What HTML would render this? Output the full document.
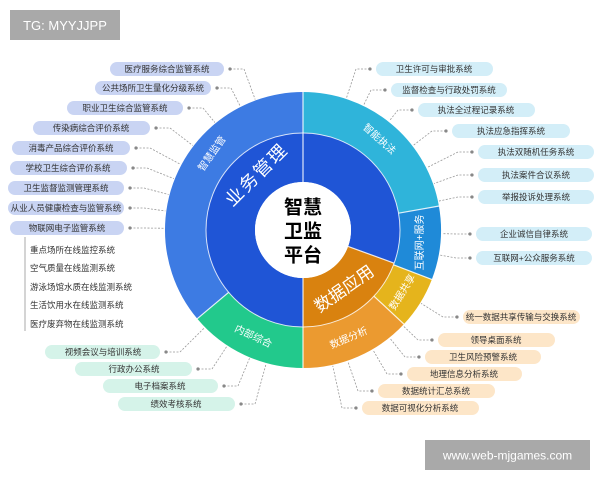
<!DOCTYPE html>
<html><head><meta charset="utf-8">
<style>
html,body{margin:0;padding:0;background:#fff;}
svg{display:block;font-family:"Liberation Sans","Noto Sans CJK SC",sans-serif;}
.pl text{font-size:8.5px;fill:#333;text-anchor:middle;dominant-baseline:central;}
</style></head>
<body>
<svg id="s" width="600" height="480" viewBox="0 0 600 480" xmlns="http://www.w3.org/2000/svg">
<rect width="600" height="480" fill="#fff"/>
<g id="conn" stroke="#999" stroke-width="0.8" stroke-dasharray="2,1.5" fill="none"></g>
<g id="dots" fill="#888"></g>

<g fill="none" stroke-width="41">
<circle cx="303" cy="230" r="117.5" stroke="#3d7be3" stroke-dasharray="266.6 738.3" transform="rotate(140 303 230)"/>
<circle cx="303" cy="230" r="117.5" stroke="#2fb4da" stroke-dasharray="164.1 738.3" transform="rotate(-90 303 230)"/>
<circle cx="303" cy="230" r="117.5" stroke="#1f8ad8" stroke-dasharray="63.6 738.3" transform="rotate(-10 303 230)"/>
<circle cx="303" cy="230" r="117.5" stroke="#e5b41c" stroke-dasharray="45.1 738.3" transform="rotate(21 303 230)"/>
<circle cx="303" cy="230" r="117.5" stroke="#eb9a30" stroke-dasharray="96.4 738.3" transform="rotate(43 303 230)"/>
<circle cx="303" cy="230" r="117.5" stroke="#22c98c" stroke-dasharray="102.5 738.3" transform="rotate(90 303 230)"/>
</g>
<g fill="none" stroke-width="49">
<circle cx="303" cy="230" r="72.5" stroke="#1f55d6" stroke-dasharray="367.0 455.6" transform="rotate(90 303 230)"/>
<circle cx="303" cy="230" r="72.5" stroke="#d9820f" stroke-dasharray="88.6 455.6" transform="rotate(20 303 230)"/>
</g>
<circle cx="303" cy="230" r="97" fill="none" stroke="#fff" stroke-opacity="0.8" stroke-width="1"/>
<g id="sep" stroke="#fff" stroke-width="1.2" stroke-opacity="0.85"></g>
<circle cx="303" cy="230" r="48" fill="#fff"/>

<g fill="#000" font-weight="bold" font-size="19" text-anchor="middle" dominant-baseline="central">
<text x="303" y="208">智慧</text><text x="303" y="232">卫监</text><text x="303" y="256">平台</text>
</g>
<g fill="#fff" font-size="10" text-anchor="middle" dominant-baseline="central">
<text transform="translate(212.6 154) rotate(-55)">智慧监管</text>
<text transform="translate(378.9 139.6) rotate(42)">智能执法</text>
<text transform="translate(420.4 242.4) rotate(-90)">互联网+服务</text>
<text transform="translate(403 292.5) rotate(-58)">数据共享</text>
<text transform="translate(349 338.6) rotate(-23)">数据分析</text>
<text transform="translate(253 337) rotate(25)">内部综合</text>
<text transform="translate(256.7 174.8) rotate(-45)" font-size="18" letter-spacing="2">业务管理</text>
<text transform="translate(344.3 289) rotate(-35)" font-size="17">数据应用</text>
</g>

<g class="pl" id="pills">
<g><rect x="110" y="62" width="114" height="14" rx="7" fill="#c9d4f3"/><text x="167" y="69">医疗服务综合监管系统</text></g>
<g><rect x="95" y="81" width="116" height="14" rx="7" fill="#c9d4f3"/><text x="153" y="88">公共场所卫生量化分级系统</text></g>
<g><rect x="67" y="101" width="116" height="14" rx="7" fill="#c9d4f3"/><text x="125" y="108">职业卫生综合监管系统</text></g>
<g><rect x="33" y="121" width="117" height="14" rx="7" fill="#c9d4f3"/><text x="91" y="128">传染病综合评价系统</text></g>
<g><rect x="12" y="141" width="118" height="14" rx="7" fill="#c9d4f3"/><text x="71" y="148">消毒产品综合评价系统</text></g>
<g><rect x="10" y="161" width="117" height="14" rx="7" fill="#c9d4f3"/><text x="68" y="168">学校卫生综合评价系统</text></g>
<g><rect x="8" y="181" width="116" height="14" rx="7" fill="#c9d4f3"/><text x="66" y="188">卫生监督监测管理系统</text></g>
<g><rect x="8" y="201" width="116" height="14" rx="7" fill="#c9d4f3"/><text x="66" y="208">从业人员健康检查与监管系统</text></g>
<g><rect x="10" y="221" width="114" height="14" rx="7" fill="#c9d4f3"/><text x="67" y="228">物联网电子监管系统</text></g>
<g><rect x="45" y="345" width="115" height="14" rx="7" fill="#d5f3e9"/><text x="103" y="352">视频会议与培训系统</text></g>
<g><rect x="75" y="362" width="117" height="14" rx="7" fill="#d5f3e9"/><text x="134" y="369">行政办公系统</text></g>
<g><rect x="103" y="379" width="115" height="14" rx="7" fill="#d5f3e9"/><text x="160" y="386">电子档案系统</text></g>
<g><rect x="118" y="397" width="117" height="14" rx="7" fill="#d5f3e9"/><text x="176" y="404">绩效考核系统</text></g>
<g><rect x="376" y="62" width="117" height="14" rx="7" fill="#d3eef8"/><text x="434" y="69">卫生许可与审批系统</text></g>
<g><rect x="391" y="83" width="116" height="14" rx="7" fill="#d3eef8"/><text x="449" y="90">监督检查与行政处罚系统</text></g>
<g><rect x="418" y="103" width="117" height="14" rx="7" fill="#d3eef8"/><text x="476" y="110">执法全过程记录系统</text></g>
<g><rect x="452" y="124" width="118" height="14" rx="7" fill="#d3eef8"/><text x="511" y="131">执法应急指挥系统</text></g>
<g><rect x="478" y="145" width="116" height="14" rx="7" fill="#d3eef8"/><text x="536" y="152">执法双随机任务系统</text></g>
<g><rect x="478" y="168" width="116" height="14" rx="7" fill="#d3eef8"/><text x="536" y="175">执法案件合议系统</text></g>
<g><rect x="478" y="190" width="116" height="14" rx="7" fill="#d3eef8"/><text x="536" y="197">举报投诉处理系统</text></g>
<g><rect x="476" y="227" width="116" height="14" rx="7" fill="#d3eef8"/><text x="534" y="234">企业诚信自律系统</text></g>
<g><rect x="476" y="251" width="116" height="14" rx="7" fill="#d3eef8"/><text x="534" y="258">互联网+公众服务系统</text></g>
<g><rect x="463" y="310" width="117" height="14" rx="7" fill="#fde6c8"/><text x="521" y="317">统一数据共享传输与交换系统</text></g>
<g><rect x="438" y="333" width="117" height="14" rx="7" fill="#fde6c8"/><text x="496" y="340">领导桌面系统</text></g>
<g><rect x="425" y="350" width="116" height="14" rx="7" fill="#fde6c8"/><text x="483" y="357">卫生风险预警系统</text></g>
<g><rect x="407" y="367" width="115" height="14" rx="7" fill="#fde6c8"/><text x="464" y="374">地理信息分析系统</text></g>
<g><rect x="378" y="384" width="117" height="14" rx="7" fill="#fde6c8"/><text x="436" y="391">数据统计汇总系统</text></g>
<g><rect x="362" y="401" width="117" height="14" rx="7" fill="#fde6c8"/><text x="420" y="408">数据可视化分析系统</text></g>
</g>

<line x1="25" y1="237" x2="25" y2="331" stroke="#aaa" stroke-width="1"/>
<g font-size="8.5" fill="#333" dominant-baseline="central">
<text x="30" y="250">重点场所在线监控系统</text>
<text x="30" y="268">空气质量在线监测系统</text>
<text x="30" y="287">游泳场馆水质在线监测系统</text>
<text x="30" y="305">生活饮用水在线监测系统</text>
<text x="30" y="324">医疗废弃物在线监测系统</text>
</g>

<rect x="10" y="10" width="110" height="30" fill="#a9a9a9"/>
<text x="65" y="25.5" fill="#fff" font-size="13" text-anchor="middle" dominant-baseline="central">TG: MYYJJPP</text>
<rect x="425" y="440" width="165" height="30" fill="#a9a9a9"/>
<text x="507.5" y="455.5" fill="#fff" font-size="12" text-anchor="middle" dominant-baseline="central">www.web-mjgames.com</text>
</svg>
<script>
(function(){
var NS="http://www.w3.org/2000/svg",cx=303,cy=230;
function P(r,t){t=t*Math.PI/180;return [cx+r*Math.sin(t),cy-r*Math.cos(t)];}
var sep=document.getElementById('sep');
[[230,97,139],[0,48,139],[80,97,139],[111,97,139],[133,97,139],[180,48,139],[110,48,97]].forEach(function(a){
 var p1=P(a[1],a[0]),p2=P(a[2],a[0]);var l=document.createElementNS(NS,'line');
 l.setAttribute('x1',p1[0]);l.setAttribute('y1',p1[1]);l.setAttribute('x2',p2[0]);l.setAttribute('y2',p2[1]);sep.appendChild(l);});
var conn=document.getElementById('conn'),dots=document.getElementById('dots');
var rs=document.querySelectorAll('#pills rect');
for(var i=0;i<rs.length;i++){
 var r=rs[i],x=+r.getAttribute('x'),y=+r.getAttribute('y')+7,w=+r.getAttribute('width');
 var left=(x+w/2)<cx,dx=left?x+w+6:x-6,bx=left?dx+14:dx-14;
 var vx=bx-cx,vy=y-cy,d=Math.sqrt(vx*vx+vy*vy),tx=cx+vx/d*139,ty=cy+vy/d*139;
 var pth=document.createElementNS(NS,'path');
 pth.setAttribute('d','M'+dx+' '+y+' L'+bx+' '+y+' L'+tx+' '+ty);conn.appendChild(pth);
 var c=document.createElementNS(NS,'circle');c.setAttribute('cx',dx);c.setAttribute('cy',y);c.setAttribute('r',1.6);dots.appendChild(c);
}
})();
</script>
</body></html>
